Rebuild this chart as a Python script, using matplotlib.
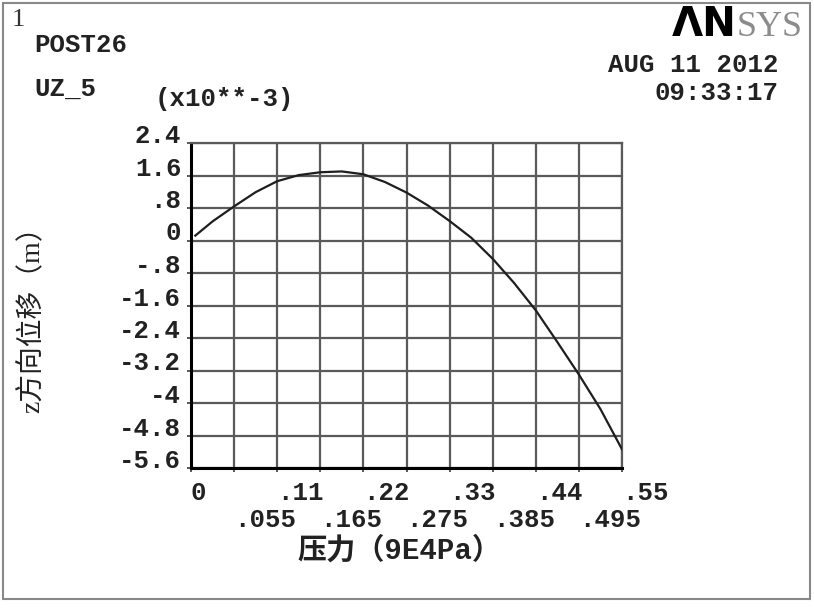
import numpy as np
import matplotlib
matplotlib.use("Agg")
import matplotlib.pyplot as plt
from matplotlib.patches import Rectangle

# UZ_5 vs pressure (y in 1e-3 m)
pressure = [0.0055, 0.0275, 0.055, 0.0825, 0.11, 0.1375, 0.165, 0.1925, 0.22,
            0.2475, 0.275, 0.3025, 0.33, 0.3575, 0.385, 0.4125, 0.44, 0.4675,
            0.495, 0.5225, 0.55]
uz = [0.12, 0.47, 0.84, 1.19, 1.46, 1.61, 1.68, 1.70, 1.63,
      1.44, 1.18, 0.86, 0.48, 0.07, -0.45, -1.05, -1.72, -2.50,
      -3.30, -4.15, -5.14]

x_major = [0, 0.11, 0.22, 0.33, 0.44, 0.55]
x_major_labels = ["0", ".11", ".22", ".33", ".44", ".55"]
x_minor = [0.055, 0.165, 0.275, 0.385, 0.495]
x_minor_labels = [".055", ".165", ".275", ".385", ".495"]
y_ticks = [2.4, 1.6, 0.8, 0, -0.8, -1.6, -2.4, -3.2, -4, -4.8, -5.6]
y_labels = ["2.4", "1.6", ".8", "0", "-.8", "-1.6", "-2.4", "-3.2", "-4", "-4.8", "-5.6"]

W, H = 814, 613
MONO = "Liberation Mono"
FS = 18.5
GRID = "#5a5a5a"


def px(x, y):
    return x / W, 1 - y / H


fig = plt.figure(figsize=(W / 100, H / 100), dpi=100)
fig.patches.append(Rectangle(px(3, 599), 807 / W, 596 / H, transform=fig.transFigure,
                             fill=False, edgecolor="#888888", linewidth=1.5))

ax = fig.add_axes([191 / W, 1 - 468 / H, 431 / W, 325 / H])
ax.plot(pressure, uz, color="#1e1e1e", linewidth=1.6, zorder=3)
ax.set_xlim(0, 0.55)
ax.set_ylim(-5.6, 2.4)

ax.set_xticks(x_major)
ax.set_xticklabels(x_major_labels)
ax.set_xticks(x_minor, minor=True)
ax.set_xticklabels(x_minor_labels, minor=True)
ax.set_yticks(y_ticks)
ax.set_yticklabels(y_labels)

ax.grid(True, which="both", color=GRID, linewidth=1.6)
ax.set_axisbelow(True)
ax.tick_params(axis="both", which="both", direction="out", length=3, width=1.4,
               color=GRID, labelsize=FS, labelcolor="#222222")
ax.tick_params(axis="x", which="major", pad=6)
ax.tick_params(axis="x", which="minor", pad=26)
ax.tick_params(axis="y", pad=4)
for lab in ax.get_xticklabels(which="both") + ax.get_yticklabels():
    lab.set_family(MONO)
    lab.set_weight("bold")
for lab in ax.get_xticklabels(which="both"):
    lab.set_ha("left")
for lab in ax.get_yticklabels():
    lab.set_va("baseline")

for side in ["left", "bottom"]:
    ax.spines[side].set_color("black")
    ax.spines[side].set_linewidth(2.2)
for side in ["top", "right"]:
    ax.spines[side].set_color(GRID)
    ax.spines[side].set_linewidth(1.6)

# header texts
mono = dict(family=MONO, weight="bold", fontsize=FS, color="#222222")
fig.text(*px(12, 26), "1", family="Liberation Serif", fontsize=19, color="#333333")
fig.text(*px(34, 52), "POST26", **mono)
fig.text(*px(34, 96), "UZ_5", **mono)
fig.text(*px(155, 106), "(x10**-3)", **mono)
fig.text(*px(778, 72), "AUG 11 2012", ha="right", **mono)
fig.text(*px(778, 100), "09:33:17", ha="right", **mono)

# ANSYS logo
fig.text(*px(737, 36), "\u039bN", ha="right", va="baseline", family="DejaVu Sans",
         weight="bold", fontsize=29, color="black")
fig.text(*px(737, 36), "SYS", ha="left", va="baseline", family="Liberation Serif",
         fontsize=26, color="#8c8c8c")

# axis titles
fig.text(*px(399, 550), "压力（9E4Pa）", ha="center", va="center",
         family=[MONO, "Noto Sans CJK SC"], weight="bold", fontsize=21, color="#222222")
fig.text(*px(32, 313), "z方向位移（m）", ha="center", va="center", rotation=90,
         family=["Liberation Serif", "Noto Sans CJK SC"], fontsize=20, color="#222222")

fig.savefig("out.png", dpi=100)
